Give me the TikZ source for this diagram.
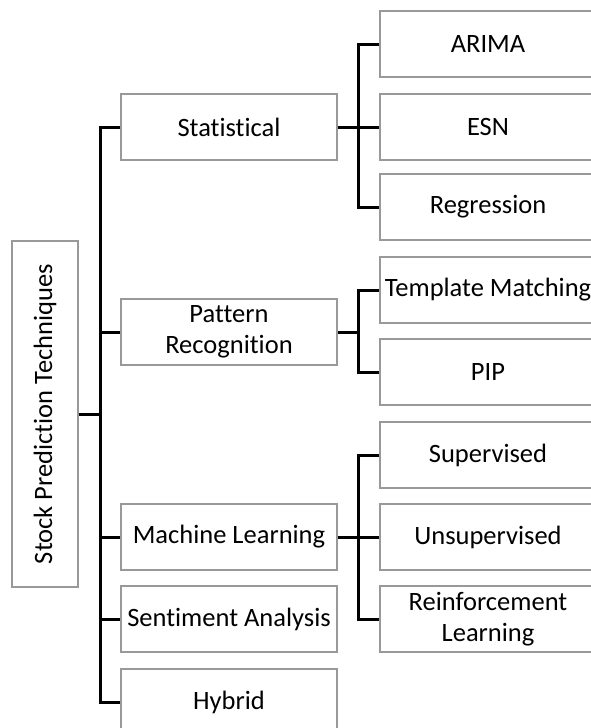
\documentclass[tikz,border=0pt]{standalone}
\usepackage{fontspec}
\setmainfont{Carlito}[Ligatures={NoCommon}]
\begin{document}
\begin{tikzpicture}[x=1pt,y=-1pt,
  box/.style={draw=black!40, line width=1.3pt, fill=white, minimum width=216pt, minimum height=66pt, inner sep=0pt, align=center, font=\fontsize{26.5}{31}\selectfont},
  link/.style={draw=black, line width=3pt}]
\useasboundingbox (0,0) rectangle (591,728);
\clip (0,0) rectangle (591,728);
% root
\node[draw=black!40, line width=1.3pt, minimum width=66pt, minimum height=346pt, inner sep=0pt] (root) at (45,414) {};
\node[rotate=90, font=\fontsize{26.5}{31}\selectfont] (roottext) at (root.center) {Stock Prediction Techniques};
% level 1
\node[box] (stat) at (229,127) {Statistical};
\node[box] (pat) at (229,332) {Pattern\\Recognition};
\node[box] (ml) at (229,537) {Machine Learning};
\node[box] (sa) at (229,619) {Sentiment Analysis};
\node[box] (hy) at (229,702) {Hybrid};
% level 2
\node[box] (arima) at (488,44) {ARIMA};
\node[box] (esn) at (488,127) {ESN};
\node[box] (reg) at (488,207) {Regression};
\node[box] (tm) at (488,290) {Template Matching};
\node[box] (pip) at (488,372) {PIP};
\node[box] (sup) at (488,455) {Supervised};
\node[box] (uns) at (488,537) {Unsupervised};
\node[box] (rl) at (488,619) {Reinforcement\\Learning};
% trunk coordinates
\coordinate (t) at (100,414);
\coordinate (s1) at (358,127);
\coordinate (s2) at (358,332);
\coordinate (s3) at (358,537);
% connectors
\draw[link] (root.east) -- (t);
\draw[link] (stat.west) -| (t) |- (hy.west);
\draw[link] (t) |- (pat.west);
\draw[link] (t) |- (ml.west);
\draw[link] (t) |- (sa.west);
\draw[link] (stat.east) -- (s1);
\draw[link] (arima.west) -| (s1) |- (reg.west);
\draw[link] (s1) -- (esn.west);
\draw[link] (pat.east) -- (s2);
\draw[link] (tm.west) -| (s2) |- (pip.west);
\draw[link] (ml.east) -- (s3);
\draw[link] (sup.west) -| (s3) |- (rl.west);
\draw[link] (s3) -- (uns.west);
\end{tikzpicture}
\end{document}
